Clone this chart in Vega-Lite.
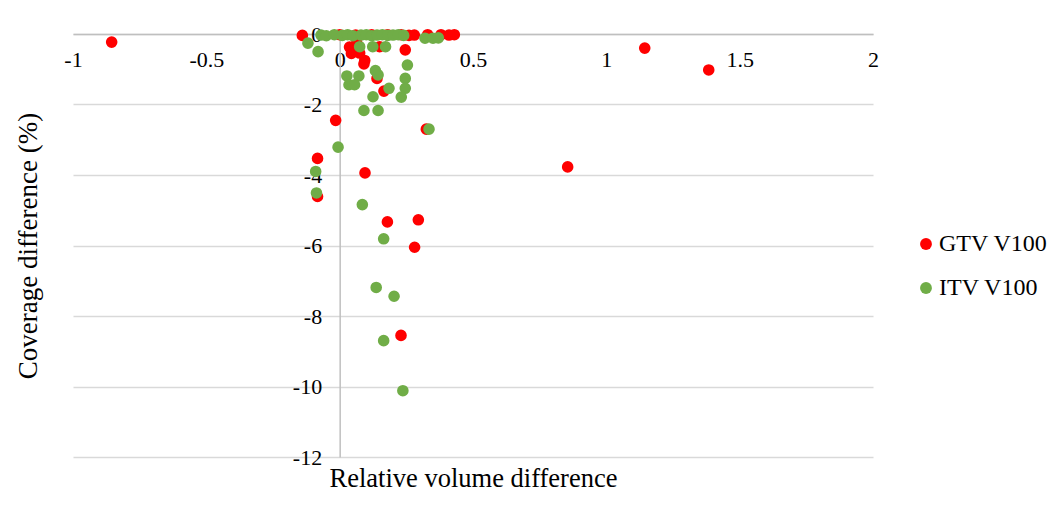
{
  "$schema": "https://vega.github.io/schema/vega-lite/v6.json",
  "autosize": {"type": "none"},
  "padding": {"left": 73, "top": 34, "right": 189, "bottom": 66},
  "width": 800,
  "height": 423,
  "background": "white",
  "config": {
    "view": {"stroke": null},
    "font": "Liberation Serif",
    "axis": {"labelFont": "Liberation Serif", "titleFont": "Liberation Serif", "labelColor": "#000000", "titleColor": "#000000", "titleFontWeight": "normal"},
    "legend": {"labelFont": "Liberation Serif", "labelColor": "#000000"}
  },
  "data": {
    "values": [
      {"series": "GTV V100", "rv": -0.855, "cov": -0.23},
      {"series": "GTV V100", "rv": -0.14, "cov": -0.04},
      {"series": "GTV V100", "rv": 1.144, "cov": -0.40},
      {"series": "GTV V100", "rv": 1.384, "cov": -1.02},
      {"series": "GTV V100", "rv": 0.855, "cov": -3.77},
      {"series": "GTV V100", "rv": -0.015, "cov": -2.45},
      {"series": "GTV V100", "rv": -0.083, "cov": -3.53},
      {"series": "GTV V100", "rv": -0.083, "cov": -4.61},
      {"series": "GTV V100", "rv": 0.095, "cov": -3.94},
      {"series": "GTV V100", "rv": 0.325, "cov": -2.70},
      {"series": "GTV V100", "rv": 0.179, "cov": -5.33},
      {"series": "GTV V100", "rv": 0.295, "cov": -5.27},
      {"series": "GTV V100", "rv": 0.281, "cov": -6.05},
      {"series": "GTV V100", "rv": 0.23, "cov": -8.55},
      {"series": "GTV V100", "rv": 0.14, "cov": -1.26},
      {"series": "GTV V100", "rv": 0.166, "cov": -1.62},
      {"series": "GTV V100", "rv": 0.091, "cov": -0.85},
      {"series": "GTV V100", "rv": 0.094, "cov": -0.75},
      {"series": "GTV V100", "rv": 0.246, "cov": -0.45},
      {"series": "GTV V100", "rv": 0.037, "cov": -0.37},
      {"series": "GTV V100", "rv": 0.044, "cov": -0.55},
      {"series": "GTV V100", "rv": 0.075, "cov": -0.54},
      {"series": "GTV V100", "rv": 0.064, "cov": -0.26},
      {"series": "GTV V100", "rv": 0.15, "cov": -0.36},
      {"series": "GTV V100", "rv": 0.28, "cov": -0.03},
      {"series": "GTV V100", "rv": 0.33, "cov": -0.02},
      {"series": "GTV V100", "rv": 0.38, "cov": -0.02},
      {"series": "GTV V100", "rv": 0.41, "cov": -0.03},
      {"series": "GTV V100", "rv": 0.43, "cov": -0.02},
      {"series": "GTV V100", "rv": 0.0, "cov": -0.02},
      {"series": "GTV V100", "rv": 0.06, "cov": -0.03},
      {"series": "GTV V100", "rv": 0.12, "cov": -0.02},
      {"series": "GTV V100", "rv": 0.18, "cov": -0.02},
      {"series": "GTV V100", "rv": 0.23, "cov": -0.02},
      {"series": "GTV V100", "rv": 0.26, "cov": -0.04},
      {"series": "ITV V100", "rv": -0.119, "cov": -0.26},
      {"series": "ITV V100", "rv": -0.081, "cov": -0.50},
      {"series": "ITV V100", "rv": 0.027, "cov": -1.19},
      {"series": "ITV V100", "rv": 0.072, "cov": -1.19},
      {"series": "ITV V100", "rv": 0.035, "cov": -1.44},
      {"series": "ITV V100", "rv": 0.056, "cov": -1.44},
      {"series": "ITV V100", "rv": 0.134, "cov": -1.04},
      {"series": "ITV V100", "rv": 0.144, "cov": -1.16},
      {"series": "ITV V100", "rv": 0.185, "cov": -1.54},
      {"series": "ITV V100", "rv": 0.254, "cov": -0.88},
      {"series": "ITV V100", "rv": 0.246, "cov": -1.26},
      {"series": "ITV V100", "rv": 0.246, "cov": -1.54},
      {"series": "ITV V100", "rv": 0.231, "cov": -1.79},
      {"series": "ITV V100", "rv": 0.125, "cov": -1.78},
      {"series": "ITV V100", "rv": 0.091, "cov": -2.17},
      {"series": "ITV V100", "rv": 0.144, "cov": -2.17},
      {"series": "ITV V100", "rv": 0.335, "cov": -2.70},
      {"series": "ITV V100", "rv": -0.006, "cov": -3.21},
      {"series": "ITV V100", "rv": -0.09, "cov": -3.90},
      {"series": "ITV V100", "rv": -0.087, "cov": -4.51},
      {"series": "ITV V100", "rv": 0.085, "cov": -4.84},
      {"series": "ITV V100", "rv": 0.165, "cov": -5.81},
      {"series": "ITV V100", "rv": 0.137, "cov": -7.19},
      {"series": "ITV V100", "rv": 0.204, "cov": -7.44},
      {"series": "ITV V100", "rv": 0.165, "cov": -8.70},
      {"series": "ITV V100", "rv": 0.237, "cov": -10.12},
      {"series": "ITV V100", "rv": 0.075, "cov": -0.36},
      {"series": "ITV V100", "rv": 0.124, "cov": -0.36},
      {"series": "ITV V100", "rv": 0.172, "cov": -0.36},
      {"series": "ITV V100", "rv": -0.07, "cov": -0.03},
      {"series": "ITV V100", "rv": -0.05, "cov": -0.05},
      {"series": "ITV V100", "rv": -0.02, "cov": -0.02},
      {"series": "ITV V100", "rv": 0.01, "cov": -0.04},
      {"series": "ITV V100", "rv": 0.03, "cov": -0.02},
      {"series": "ITV V100", "rv": 0.05, "cov": -0.05},
      {"series": "ITV V100", "rv": 0.08, "cov": -0.03},
      {"series": "ITV V100", "rv": 0.10, "cov": -0.02},
      {"series": "ITV V100", "rv": 0.12, "cov": -0.05},
      {"series": "ITV V100", "rv": 0.14, "cov": -0.03},
      {"series": "ITV V100", "rv": 0.16, "cov": -0.02},
      {"series": "ITV V100", "rv": 0.18, "cov": -0.04},
      {"series": "ITV V100", "rv": 0.20, "cov": -0.03},
      {"series": "ITV V100", "rv": 0.22, "cov": -0.02},
      {"series": "ITV V100", "rv": 0.24, "cov": -0.04},
      {"series": "ITV V100", "rv": 0.32, "cov": -0.12},
      {"series": "ITV V100", "rv": 0.35, "cov": -0.12},
      {"series": "ITV V100", "rv": 0.37, "cov": -0.11}
    ]
  },
  "mark": {"type": "circle", "size": 135, "opacity": 1},
  "encoding": {
    "x": {
      "field": "rv",
      "type": "quantitative",
      "scale": {"domain": [-1, 2], "nice": false, "zero": false},
      "axis": {
        "orient": "bottom",
        "offset": -423,
        "values": [-1, -0.5, 0, 0.5, 1, 1.5, 2],
        "labelExpr": "datum.value + ''",
        "grid": false,
        "ticks": false,
        "tickSize": 0,
        "domain": true,
        "domainColor": "#bfbfbf",
        "domainWidth": 1.5,
        "labelFont": "Liberation Serif",
        "labelFontSize": 22,
        "labelPadding": 15,
        "labelFlush": false,
        "labelOverlap": false,
        "title": "Relative volume difference",
        "titleFont": "Liberation Serif",
        "titleFontSize": 26.5,
        "titleY": 444,
        "titleBaseline": "middle"
      }
    },
    "y": {
      "field": "cov",
      "type": "quantitative",
      "scale": {"domain": [-12, 0], "nice": false, "zero": false},
      "axis": {
        "orient": "left",
        "offset": -266.67,
        "values": [0, -2, -4, -6, -8, -10, -12],
        "labelExpr": "datum.value + ''",
        "grid": true,
        "gridColor": "#d9d9d9",
        "gridWidth": 1.5,
        "ticks": false,
        "tickSize": 0,
        "domain": true,
        "domainColor": "#bfbfbf",
        "domainWidth": 1.5,
        "labelFont": "Liberation Serif",
        "labelFontSize": 22,
        "labelPadding": 18,
        "labelFlush": false,
        "labelOverlap": false,
        "title": "Coverage difference (%)",
        "titleFont": "Liberation Serif",
        "titleFontSize": 27,
        "titleAngle": -90,
        "titleX": -311,
        "titleY": 211.5,
        "titleAlign": "center",
        "titleBaseline": "middle"
      }
    },
    "color": {
      "field": "series",
      "type": "nominal",
      "scale": {"domain": ["GTV V100", "ITV V100"], "range": ["#ff0000", "#70ad47"]},
      "legend": {
        "title": null,
        "orient": "none",
        "legendX": 841,
        "legendY": 198,
        "padding": 0,
        "symbolType": "circle",
        "symbolSize": 140,
        "symbolOpacity": 1,
        "symbolStrokeWidth": 0,
        "labelFont": "Liberation Serif",
        "labelFontSize": 24,
        "labelOffset": 1,
        "rowPadding": 20
      }
    },
    "order": {"field": "series"}
  }
}
